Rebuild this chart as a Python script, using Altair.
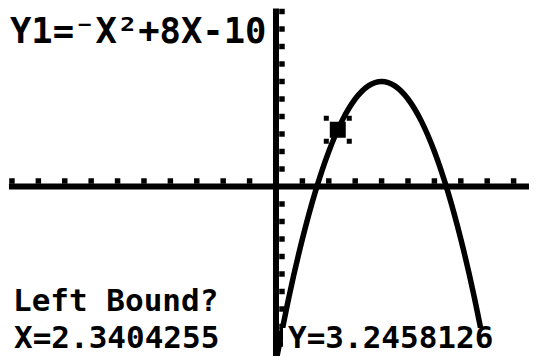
import altair as alt
import pandas as pd

# Graph of Y1 = -X^2 + 8X - 10 on a TI-83 style screen (window -10..10)
curve_x = [0, 0.5, 1, 1.5, 2, 2.5, 3, 3.5, 4, 4.5, 5, 5.5, 6, 6.5, 7, 7.5, 8]
curve_y = [-10, -6.25, -3, -0.25, 2, 3.75, 5, 5.75, 6, 5.75, 5, 3.75, 2, -0.25, -3, -6.25, -10]

cursor_x = [2.3404255]
cursor_y = [3.2458126]

x_ticks = [-10, -9, -8, -7, -6, -5, -4, -3, -2, -1, 1, 2, 3, 4, 5, 6, 7, 8, 9]
y_ticks = [-9, -8, -7, -6, -5, -4, -3, -2, -1, 1, 2, 3, 4, 5, 6, 7, 8, 9, 10]

window_min = -10
window_max = 10

title_text = "Y1=⁻X²+8X-10"
prompt_text = "Left Bound?"
x_text = "X=2.3404255"
y_text = "Y=3.2458126"

W, H = 521, 348
xs = alt.Scale(domain=[-10.15, 9.583], nice=False, zero=False)
ys = alt.Scale(domain=[-9.686, 10.2], nice=False, zero=False)

FONT = "DejaVu Sans Mono"

curve_df = pd.DataFrame({"x": curve_x, "y": curve_y})
cursor_df = pd.DataFrame({"x": cursor_x, "y": cursor_y})
xt_df = pd.DataFrame({"x": x_ticks, "y": [0] * len(x_ticks)})
yt_df = pd.DataFrame({"x": [0] * len(y_ticks), "y": y_ticks})
xaxis_df = pd.DataFrame({"x": [window_min], "x2": [window_max], "y": [0]})
yaxis_df = pd.DataFrame({"y": [window_min], "y2": [window_max], "x": [0]})

x_axis = alt.Chart(xaxis_df).mark_rule(color="black", strokeWidth=6, strokeCap="square", clip=True).encode(
    x=alt.X("x:Q", scale=xs, axis=None), x2="x2:Q", y=alt.Y("y:Q", scale=ys, axis=None)
)
y_axis = alt.Chart(yaxis_df).mark_rule(color="black", strokeWidth=6, strokeCap="square", clip=True).encode(
    y=alt.Y("y:Q", scale=ys, axis=None), y2="y2:Q", x=alt.X("x:Q", scale=xs, axis=None)
)
x_tick_marks = alt.Chart(xt_df).mark_point(
    shape="square", filled=True, color="black", size=30, opacity=1, yOffset=-5.5
).encode(x=alt.X("x:Q", scale=xs, axis=None), y=alt.Y("y:Q", scale=ys, axis=None))
y_tick_marks = alt.Chart(yt_df).mark_point(
    shape="square", filled=True, color="black", size=30, opacity=1, xOffset=6
).encode(x=alt.X("x:Q", scale=xs, axis=None), y=alt.Y("y:Q", scale=ys, axis=None))

curve = alt.Chart(curve_df).mark_line(
    color="black", strokeWidth=5.5, interpolate="natural", clip=True
).encode(x=alt.X("x:Q", scale=xs, axis=None), y=alt.Y("y:Q", scale=ys, axis=None))

cursor_shape = (
    "M-0.57,-0.57H0.57V0.57H-0.57Z "
    "M-1,-1H-0.64V-0.64H-1Z M0.64,-1H1V-0.64H0.64Z "
    "M-1,0.64H-0.64V1H-1Z M0.64,0.64H1V1H0.64Z"
)
cursor = alt.Chart(cursor_df).mark_point(
    shape=cursor_shape, filled=True, color="black", size=784, opacity=1
).encode(x=alt.X("x:Q", scale=xs, axis=None), y=alt.Y("y:Q", scale=ys, axis=None))

# white backing of the bottom-right text row
cover = alt.Chart(pd.DataFrame({"a": [0]})).mark_rect(color="white").encode(
    x=alt.value(275), x2=alt.value(W), y=alt.value(320), y2=alt.value(H)
)

def label(txt, px, py, size):
    return alt.Chart(pd.DataFrame({"t": [txt]})).mark_text(
        align="left", baseline="alphabetic", font=FONT, fontWeight="bold",
        fontSize=size, color="black"
    ).encode(text="t:N", x=alt.value(px), y=alt.value(py))

t1 = label(title_text, 2, 35, 35.5)
t2 = label(prompt_text, 5, 303, 31)
t3 = label(x_text, 6, 340, 31)
t4 = label(y_text, 280, 340, 31)

chart = alt.layer(
    x_axis, y_axis, x_tick_marks, y_tick_marks, curve, cursor, cover, t1, t2, t3, t4
).properties(
    width=W, height=H, padding=0, autosize=alt.AutoSizeParams(type="none"), background="white"
).configure_view(stroke=None)

chart.save("out.html", embed_options={"renderer": "svg", "actions": False})
